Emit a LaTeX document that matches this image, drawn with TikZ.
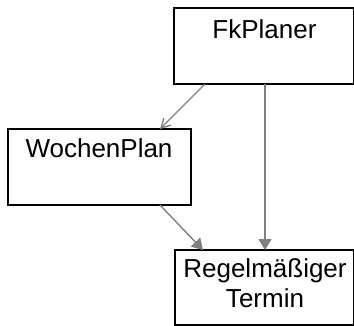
\documentclass[tikz,border=0pt]{standalone}
\usepackage{fontspec}
\setmainfont{Liberation Sans}
\usetikzlibrary{arrows.meta}
\begin{document}
\begin{tikzpicture}[x=1pt,y=-1pt,
  box/.style={draw=black,line width=1.5pt,inner sep=0pt,outer sep=0pt},
  lbl/.style={inner sep=0pt,outer sep=0pt,font=\fontsize{26}{30}\selectfont,align=center},
  conn/.style={draw=gray,line width=1.4pt},
  open/.style={conn,-{Straight Barb[length=9pt,width=10pt,line width=1.4pt]}},
  filled/.style={conn,-{Triangle[length=11pt,width=13pt]}}]
\useasboundingbox (0,0) rectangle (354,325);
\node[box,minimum width=180pt,minimum height=76pt] (fk) at (264,46) {};
\node[box,minimum width=183pt,minimum height=76pt] (wp) at (99.5,167) {};
\node[box,minimum width=179pt,minimum height=75pt] (rt) at (264.5,287.5) {};
\node[lbl,anchor=base] (fkt) at (264.5,38) {FkPlaner};
\node[lbl,anchor=base] (wpt) at (99,157.7) {WochenPlan};
\node[lbl,anchor=north] (rtt) at (265,259) {Regelmäßiger\\Termin};
\draw[open] ([xshift=31pt]fk.south west) -- ([xshift=152pt]wp.north west);
\draw[filled] ([xshift=152pt]wp.south west) -- ([xshift=28pt]rt.north west);
\draw[filled] ([xshift=91pt]fk.south west) -- ([xshift=90pt]rt.north west);
\end{tikzpicture}
\end{document}
